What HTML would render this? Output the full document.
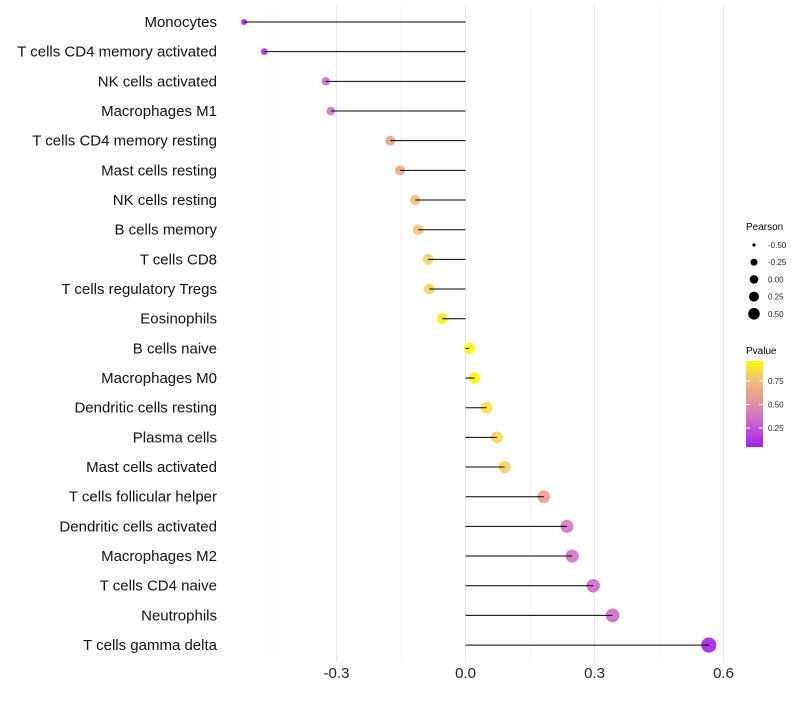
<!DOCTYPE html>
<html><head><meta charset="utf-8"><style>
body{margin:0;background:#fff;font-family:"Liberation Sans",sans-serif}
svg text{font-family:"Liberation Sans",sans-serif}
</style></head><body>
<svg id="chart" width="800" height="700">
<defs><linearGradient id="pg" x1="0" y1="1" x2="0" y2="0">
<stop offset="0" stop-color="#A020F0"/><stop offset="0.33" stop-color="#D070C8"/><stop offset="0.6" stop-color="#E8A090"/><stop offset="0.82" stop-color="#F2C870"/><stop offset="1" stop-color="#FFFF00"/>
</linearGradient></defs>
<g id="grid"></g><g id="dots"></g><g id="marks"></g><g id="ylabels"></g><g id="xlabels"></g>
<g id="legend">
<text x="746" y="230" font-size="10">Pearson</text>
<g id="sizeleg"></g>
<text x="746" y="354" font-size="10">Pvalue</text>
<rect x="746" y="361" width="17" height="86" fill="url(#pg)"/>
<g id="cbticks"></g>
</g>
</svg>
<script>
const categories=["Monocytes","T cells CD4 memory activated","NK cells activated","Macrophages M1","T cells CD4 memory resting","Mast cells resting","NK cells resting","B cells memory","T cells CD8","T cells regulatory  Tregs ","Eosinophils","B cells naive","Macrophages M0","Dendritic cells resting","Plasma cells","Mast cells activated","T cells follicular helper","Dendritic cells activated","Macrophages M2","T cells CD4 naive","Neutrophils","T cells gamma delta"];
const pearson=[-0.515,-0.468,-0.325,-0.313,-0.175,-0.152,-0.117,-0.110,-0.087,-0.084,-0.054,0.009,0.021,0.049,0.073,0.091,0.182,0.236,0.248,0.297,0.342,0.566];
const pvalue=[0.08,0.1,0.35,0.36,0.6,0.64,0.76,0.77,0.82,0.82,0.9,0.96,0.93,0.87,0.84,0.82,0.6,0.38,0.36,0.33,0.33,0.06];
const xTicks=[-0.3,0,0.3,0.6];
const xMinor=[-0.45,-0.15,0.15,0.45];
const sizeLegend=[-0.5,-0.25,0,0.25,0.5];
const cbTicks=[0.25,0.5,0.75];
const NS="http://www.w3.org/2000/svg";
const x=v=>465.5+v*430;
const y=i=>22+i*29.67;
const rad=p=>Math.sqrt(Math.max(2.5,32+44*p));
const cbY=p=>447-(p-0.05)/(0.96-0.05)*86;
const stops=[[0,[160,32,240]],[0.33,[208,112,200]],[0.6,[232,160,144]],[0.82,[242,200,112]],[1,[255,255,0]]];
function col(p){const t=Math.max(0,Math.min(1,(p-0.05)/0.91));
for(let k=1;k<stops.length;k++){if(t<=stops[k][0]){const [o0,a]=stops[k-1],[o1,b]=stops[k];const u=(t-o0)/(o1-o0);
return `rgb(${a.map((v,j)=>Math.round(v+(b[j]-v)*u)).join(',')})`;}}return 'rgb(255,255,0)';}
function mk(tag,at,par){const e=document.createElementNS(NS,tag);for(const k in at)e.setAttribute(k,at[k]);document.getElementById(par).appendChild(e);return e;}
xMinor.forEach(v=>{const l=mk('line',{x1:x(v),x2:x(v),y1:5,y2:662,stroke:'#f0f0f0','stroke-width':0.6},'grid');

});
xTicks.forEach(v=>{const l=mk('line',{x1:x(v),x2:x(v),y1:5,y2:662,stroke:'#e6e6e6','stroke-width':0.9},'grid');


const t=mk('text',{x:x(v),y:678,'font-size':15,'text-anchor':'middle',fill:'#222'},'xlabels');t.textContent=v===0?'0.0':v.toFixed(1);

});
categories.forEach((c,i)=>{
const d=mk('circle',{cx:x(pearson[i]),cy:y(i),r:rad(pearson[i]),fill:col(pvalue[i]),'fill-opacity':0.9},'dots');


const l=mk('line',{x1:x(0),x2:x(pearson[i]),y1:y(i),y2:y(i),stroke:'#000','stroke-width':1},'marks');


const t=mk('text',{x:217,y:y(i)+5,'font-size':15,'text-anchor':'end',fill:'#111'},'ylabels');t.textContent=c;

});
sizeLegend.forEach((p,i)=>{const yy=245+i*17.2;
const d=mk('circle',{cx:754,cy:yy,r:[1.6,3.5,4.3,5,5.8][i],fill:'#000'},'sizeleg');


const t=mk('text',{x:768,y:yy+3,'font-size':8,fill:'#222'},'sizeleg');t.textContent=p.toFixed(2);

});
cbTicks.forEach(p=>{const yy=cbY(p);
mk('line',{x1:746,x2:750,y1:yy,y2:yy,stroke:'#fff'},'cbticks');mk('line',{x1:759,x2:763,y1:yy,y2:yy,stroke:'#fff'},'cbticks');
const t=mk('text',{x:768,y:yy+3,'font-size':8,fill:'#222'},'cbticks');t.textContent=p.toFixed(2);

});
</script>
</body></html>
